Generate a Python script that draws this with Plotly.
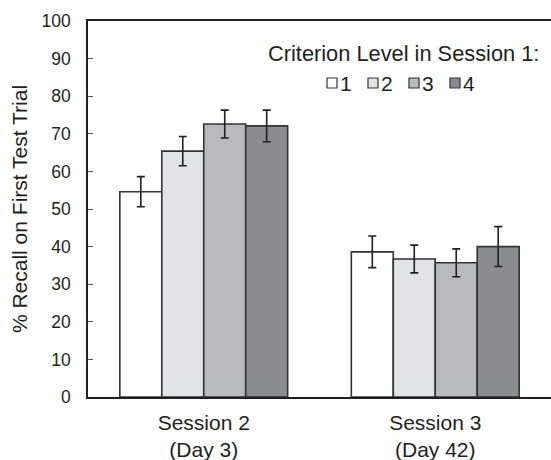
import plotly.graph_objects as go

sessions = ["Session 2<br>(Day 3)", "Session 3<br>(Day 42)"]
levels = ["1", "2", "3", "4"]
values = {
    "1": [54.6, 38.6],
    "2": [65.4, 36.7],
    "3": [72.6, 35.7],
    "4": [72.1, 40.0],
}
errors = {
    "1": [4.0, 4.2],
    "2": [3.9, 3.7],
    "3": [3.7, 3.7],
    "4": [4.2, 5.3],
}
colors = {"1": "#ffffff", "2": "#e2e3e5", "3": "#b9babe", "4": "#8b8c90"}
legend_title = "Criterion Level in Session 1:"

FONT = "Liberation Sans, Arial, sans-serif"
DARK = "#231f20"

fig = go.Figure()
for lv in levels:
    fig.add_trace(go.Bar(
        x=sessions, y=values[lv], name=lv, showlegend=False,
        marker=dict(color=colors[lv], line=dict(color="#333333", width=1.6)),
        error_y=dict(type="data", array=errors[lv], color=DARK, thickness=1.6, width=4),
    ))

# custom legend: small squares + labels in paper coordinates
W, H = 463.0, 376.0
leg_x0 = (327 - 88) / W
leg_dx = 41 / W
leg_y = (397 - 83) / H
shapes = []
annotations = [dict(text=legend_title, x=(541 - 88) / W, y=(397 - 53) / H,
                    xref="paper", yref="paper", xanchor="right", yanchor="middle",
                    showarrow=False, font=dict(size=21.8, color=DARK))]
for i, lv in enumerate(levels):
    xa = leg_x0 + i * leg_dx
    shapes.append(dict(type="rect", xref="paper", yref="paper",
                       xsizemode="pixel", ysizemode="pixel",
                       xanchor=xa, yanchor=leg_y, x0=0, x1=10, y0=-5, y1=5,
                       fillcolor=colors[lv], line=dict(color="#333333", width=1.2)))
    annotations.append(dict(text=lv, x=xa + 11 / W, y=leg_y, xref="paper", yref="paper",
                            xanchor="left", yanchor="middle", showarrow=False,
                            font=dict(size=21, color=DARK)))

fig.update_layout(
    width=551, height=460,
    margin=dict(l=88, r=0, t=21, b=63),
    paper_bgcolor="white", plot_bgcolor="white",
    barmode="group", bargap=0.275, bargroupgap=0,
    font=dict(family=FONT, size=21, color=DARK),
    shapes=shapes, annotations=annotations,
)
fig.update_xaxes(showline=True, linecolor=DARK, linewidth=1.5, mirror=True,
                 ticks="", showgrid=False, tickfont=dict(size=21), ticklabelstandoff=6)
fig.update_yaxes(range=[0, 100], dtick=10, showline=True, linecolor=DARK, linewidth=1.5,
                 ticks="inside", ticklen=5, tickcolor="#555555", showgrid=False,
                 zeroline=False, ticklabelstandoff=12, tickfont=dict(size=17.5),
                 title=dict(text="% Recall on First Test Trial", font=dict(size=21), standoff=8))

fig.write_html("out.html")
